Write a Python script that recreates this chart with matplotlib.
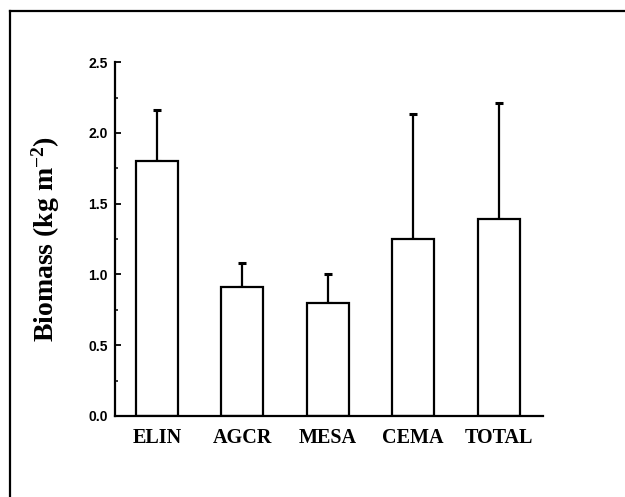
import matplotlib
matplotlib.use("Agg")
import matplotlib.pyplot as plt
from matplotlib.lines import Line2D
import numpy as np

categories = ["ELIN", "AGCR", "MESA", "CEMA", "TOTAL"]
biomass = [1.80, 0.91, 0.80, 1.25, 1.39]
upper_err = [0.36, 0.17, 0.20, 0.88, 0.82]

plt.rcParams['mathtext.fontset'] = 'custom'
plt.rcParams['mathtext.rm'] = 'Liberation Serif:bold'
plt.rcParams['mathtext.default'] = 'rm'

fig = plt.figure(figsize=(6.25, 4.97), dpi=100)
fig.patch.set_facecolor('white')
ax = fig.add_axes([0.184, 0.163, 0.685, 0.712])

x = np.arange(len(categories))
ax.bar(x, biomass, width=0.49, color='white', edgecolor='black', linewidth=1.6, zorder=2)
ax.errorbar(x, biomass, yerr=[np.zeros(len(x)), upper_err], fmt='none',
            ecolor='black', elinewidth=1.6, capsize=3.2, capthick=2.2, zorder=1)

ax.set_xlim(-0.49, 4.52)
ax.set_ylim(0, 2.5)
ax.set_yticks([0, 0.5, 1.0, 1.5, 2.0, 2.5])
ax.set_yticks(np.arange(0.25, 2.5, 0.5), minor=True)
ax.set_yticklabels(["0.0", "0.5", "1.0", "1.5", "2.0", "2.5"],
                   family=['Liberation Sans Narrow', 'Liberation Sans'],
                   fontweight='bold', fontsize=10)
ax.set_xticks(x)
ax.set_xticklabels(categories, family='Liberation Serif', fontweight='bold', fontsize=14.5)
ax.tick_params(axis='x', length=0, pad=9)
ax.tick_params(axis='y', which='major', direction='in', length=4.5, width=1.3, pad=5)
ax.tick_params(axis='y', which='minor', direction='in', length=2.5, width=1.1)

for s in ['top', 'right']:
    ax.spines[s].set_visible(False)
for s in ['left', 'bottom']:
    ax.spines[s].set_linewidth(1.6)

ax.set_ylabel("Biomass (kg m$^{-2}$)", family='Liberation Serif', fontweight='bold', fontsize=20)
ax.yaxis.set_label_coords(-0.124, 0.5)

fig.add_artist(Line2D([10/625, 10/625], [0, 1 - 11/497], transform=fig.transFigure,
                      color='black', linewidth=1.6))
fig.add_artist(Line2D([10/625, 1], [1 - 11/497, 1 - 11/497], transform=fig.transFigure,
                      color='black', linewidth=1.6))

fig.savefig("out.png", dpi=100, facecolor='white')
